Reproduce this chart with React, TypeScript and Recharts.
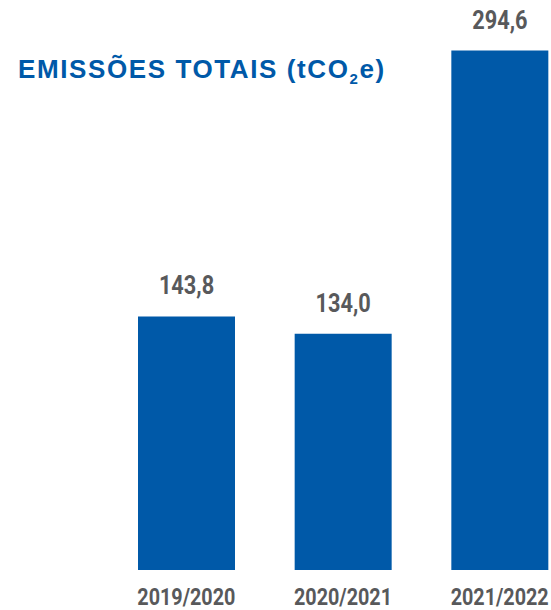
import React from "react";
import { Bar, BarChart, LabelList, XAxis, YAxis } from "recharts";

const periods = ["2019/2020", "2020/2021", "2021/2022"];
const emissions = [143.8, 134.0, 294.6];
const labels = ["143,8", "134,0", "294,6"];

const data = periods.map((p, i) => ({ period: p, value: emissions[i], label: labels[i] }));

const BLUE = "#0059a8";
const GREY = "#58595b";
const FONT = "Roboto, 'Liberation Sans', sans-serif";

// condensed look: squeeze Roboto horizontally
const PeriodTick = (props: any) => {
	const { x, payload } = props;
	return (
		<text
			transform={`translate(${x},605) scale(0.86,1)`}
			textAnchor="middle"
			fill={GREY}
			fontFamily={FONT}
			fontWeight="bold"
			fontSize={23}
		>
			{payload.value}
		</text>
	);
};

const ValueLabel = (props: any) => {
	const { x, y, width, value } = props;
	return (
		<text
			transform={`translate(${x + width / 2},${y - 22}) scale(0.87,1)`}
			textAnchor="middle"
			fill={GREY}
			fontFamily={FONT}
			fontWeight="bold"
			fontSize={25}
		>
			{value}
		</text>
	);
};

export default function App() {
	return (
		<div
			style={{
				position: "absolute",
				left: 0,
				top: 0,
				width: 551,
				height: 610,
				overflow: "hidden",
				background: "#fff",
			}}
		>
			<BarChart
				width={578}
				height={610}
				data={data}
				margin={{ top: 41, right: 0, left: 108, bottom: 0 }}
			>
				<XAxis
					dataKey="period"
					axisLine={false}
					tickLine={false}
					height={40}
					tick={<PeriodTick />}
					interval={0}
				/>
				<YAxis hide domain={[0, 300]} />
				<Bar dataKey="value" fill={BLUE} barSize={97} isAnimationActive={false}>
					<LabelList dataKey="label" content={<ValueLabel />} />
				</Bar>
			</BarChart>
			<svg
				width={551}
				height={110}
				style={{ position: "absolute", left: 0, top: 0 }}
			>
				<text
					x={18}
					y={78}
					fill={BLUE}
					fontFamily="'Liberation Sans', Arial, sans-serif"
					fontWeight="bold"
					fontSize={26}
					letterSpacing={1.6}
				>
					EMISSÕES TOTAIS (tCO
					<tspan fontSize={15} dy={6}>
						2
					</tspan>
					<tspan dy={-6}>e)</tspan>
				</text>
			</svg>
		</div>
	);
}
